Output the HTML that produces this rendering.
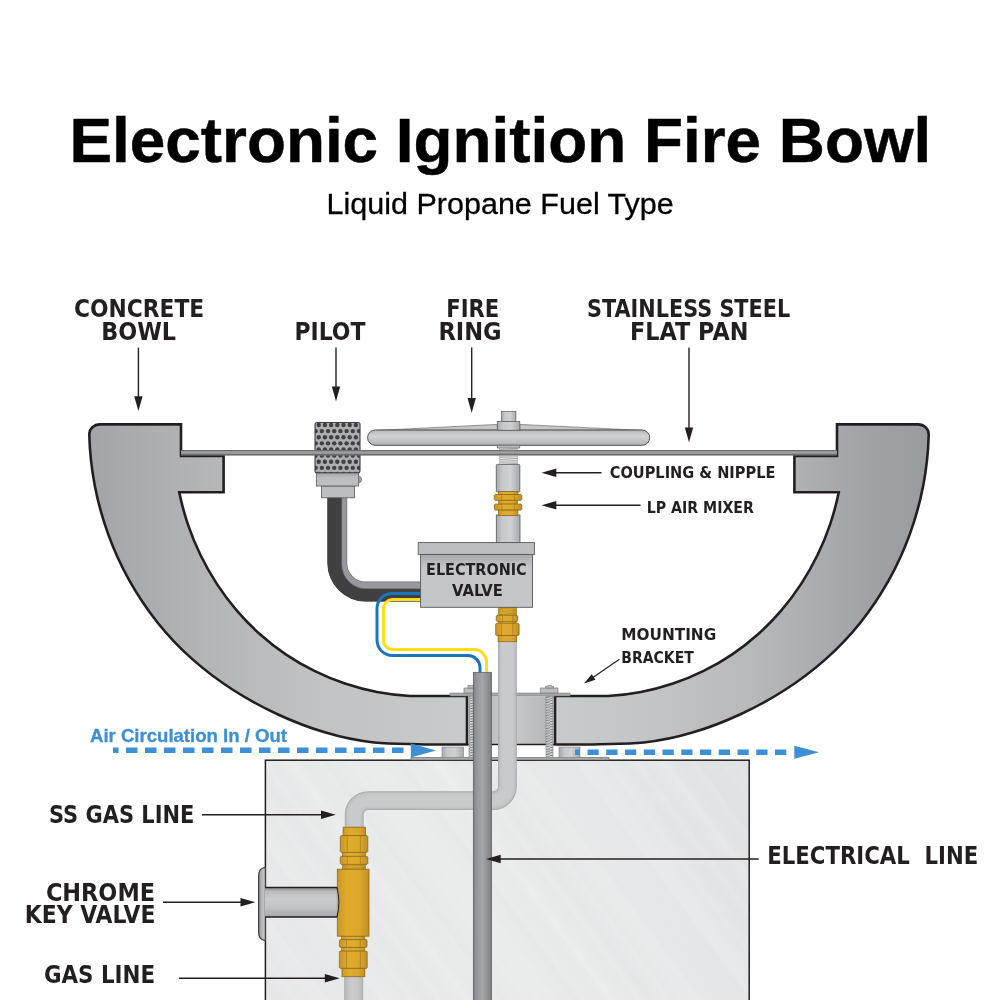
<!DOCTYPE html>
<html lang="en">
<head>
<meta charset="utf-8">
<title>Electronic Ignition Fire Bowl</title>
<style>
html,body{margin:0;padding:0;background:#fff;}
body{width:1000px;height:1000px;overflow:hidden;font-family:"Liberation Sans",sans-serif;}
svg{display:block;will-change:transform;}
svg text{will-change:transform;}
</style>
</head>
<body>
<svg width="1000" height="1000" viewBox="0 0 1000 1000" role="img" aria-label="Electronic Ignition Fire Bowl diagram">

<defs>
<linearGradient id="gBowlL" gradientUnits="userSpaceOnUse" x1="89" y1="0" x2="467" y2="0">
<stop offset="0" stop-color="#a2a4a7"/><stop offset="0.3" stop-color="#b2b4b6"/><stop offset="0.6" stop-color="#c1c2c4"/><stop offset="1" stop-color="#c9cacc"/></linearGradient>
<linearGradient id="gBowlR" gradientUnits="userSpaceOnUse" x1="929" y1="0" x2="551" y2="0">
<stop offset="0" stop-color="#999b9e"/><stop offset="0.16" stop-color="#a0a2a5"/><stop offset="0.47" stop-color="#b8b9bb"/><stop offset="0.75" stop-color="#c4c5c7"/><stop offset="1" stop-color="#c9cacc"/></linearGradient>
<linearGradient id="gBox" gradientUnits="userSpaceOnUse" x1="265" y1="1000" x2="749" y2="760">
<stop offset="0" stop-color="#e6e7e8"/><stop offset="0.45" stop-color="#e9eaea"/><stop offset="0.8" stop-color="#e5e6e7"/><stop offset="1" stop-color="#dfe0e1"/></linearGradient>
<linearGradient id="gStreak" gradientUnits="userSpaceOnUse" x1="0" y1="0" x2="18.5" y2="-13.7" spreadMethod="repeat">
<stop offset="0" stop-color="#fff" stop-opacity="0"/><stop offset="0.3" stop-color="#fff" stop-opacity="0"/><stop offset="0.5" stop-color="#fff" stop-opacity="0.10"/><stop offset="0.7" stop-color="#fff" stop-opacity="0"/><stop offset="1" stop-color="#fff" stop-opacity="0"/></linearGradient>
<linearGradient id="gStreak2" gradientUnits="userSpaceOnUse" x1="7" y1="0" x2="55.2" y2="-35.7" spreadMethod="repeat">
<stop offset="0" stop-color="#fff" stop-opacity="0"/><stop offset="0.2" stop-color="#fff" stop-opacity="0.11"/><stop offset="0.45" stop-color="#fff" stop-opacity="0"/><stop offset="0.7" stop-color="#d8d9da" stop-opacity="0.12"/><stop offset="1" stop-color="#fff" stop-opacity="0"/></linearGradient>
<linearGradient id="gPipeV" x1="0" y1="0" x2="1" y2="0">
<stop offset="0" stop-color="#a7a9ac"/><stop offset="0.25" stop-color="#c7c8ca"/><stop offset="0.6" stop-color="#cfd0d2"/><stop offset="1" stop-color="#a7a9ac"/></linearGradient>
<linearGradient id="gPipeV2" x1="0" y1="0" x2="1" y2="0">
<stop offset="0" stop-color="#b3b5b7"/><stop offset="0.3" stop-color="#c8c9cb"/><stop offset="0.7" stop-color="#c8c9cb"/><stop offset="1" stop-color="#b3b5b7"/></linearGradient>
<linearGradient id="gPipeH" x1="0" y1="0" x2="0" y2="1">
<stop offset="0" stop-color="#b5b7b9"/><stop offset="0.4" stop-color="#d1d3d4"/><stop offset="1" stop-color="#b1b3b6"/></linearGradient>
<linearGradient id="gCond" x1="0" y1="0" x2="1" y2="0">
<stop offset="0" stop-color="#808285"/><stop offset="0.2" stop-color="#96989b"/><stop offset="0.5" stop-color="#a3a5a8"/><stop offset="0.8" stop-color="#8e9093"/><stop offset="1" stop-color="#7b7d80"/></linearGradient>
<linearGradient id="gStem" x1="0" y1="0" x2="0" y2="1">
<stop offset="0" stop-color="#8a8c8e"/><stop offset="0.14" stop-color="#b9bbbd"/><stop offset="0.38" stop-color="#cbccce"/><stop offset="0.7" stop-color="#c0c2c4"/><stop offset="1" stop-color="#a3a5a8"/></linearGradient>
<linearGradient id="gFlange" x1="0" y1="0" x2="1" y2="0">
<stop offset="0" stop-color="#8a8c8e"/><stop offset="0.5" stop-color="#b9bbbd"/><stop offset="1" stop-color="#c8c9cb"/></linearGradient>
<linearGradient id="gBrass" x1="0" y1="0" x2="1" y2="0">
<stop offset="0" stop-color="#c9952a"/><stop offset="0.3" stop-color="#e0ab2c"/><stop offset="0.7" stop-color="#dca82b"/><stop offset="1" stop-color="#c08d27"/></linearGradient>
<linearGradient id="gValve" x1="0" y1="0" x2="0" y2="1">
<stop offset="0" stop-color="#a7a9ac"/><stop offset="0.25" stop-color="#c4c6c8"/><stop offset="1" stop-color="#c4c6c8"/></linearGradient>
<linearGradient id="gBase" x1="0" y1="0" x2="0" y2="1">
<stop offset="0" stop-color="#a0a2a5"/><stop offset="0.4" stop-color="#bcbec0"/><stop offset="1" stop-color="#bcbec0"/></linearGradient>
<linearGradient id="gBlock" x1="0" y1="0" x2="1" y2="0">
<stop offset="0" stop-color="#b1b3b6"/><stop offset="0.5" stop-color="#c9cacc"/><stop offset="1" stop-color="#b1b3b6"/></linearGradient>
<pattern id="pThread" patternUnits="userSpaceOnUse" x="0" y="696" width="10" height="2.6">
<rect width="10" height="2.6" fill="#d1d3d4"/>
<path d="M-1,2.6 L11,0.4" stroke="#6d6e71" stroke-width="0.9" fill="none"/>
</pattern>
<pattern id="pThread2" patternUnits="userSpaceOnUse" x="0" y="455.6" width="20" height="1.7">
<rect width="20" height="1.7" fill="#ffffff"/>
<path d="M-1,0.5 L21,1.3" stroke="#6d6e71" stroke-width="0.7" fill="none"/>
</pattern>
</defs>

<g id="box">
<rect x="265.4" y="760.2" width="483.8" height="245" fill="url(#gBox)"/>
<rect x="265.4" y="760.2" width="483.8" height="245" fill="url(#gStreak)"/>
<rect x="265.4" y="760.2" width="483.8" height="245" fill="url(#gStreak2)"/>
<rect x="265.4" y="760.2" width="483.8" height="245" fill="none" stroke="#231f20" stroke-width="1.5"/>
</g>
<g id="keyvalve">
<path d="M265.4,867.6 H264.5 Q258.6,868.5 258.6,876 V932 Q258.6,939.5 264.5,940.4 H265.4 Z" fill="url(#gFlange)" stroke="#414042" stroke-width="1.2"/>
<rect x="265" y="887.5" width="73" height="29.5" fill="url(#gStem)"/>
<path d="M265,887.5 H338 M265,917 H338" stroke="#231f20" stroke-width="1.3" fill="none"/>
</g>
<g id="plate">
<rect x="411" y="757.3" width="198" height="2.7" fill="#a7a9ac" stroke="#58595b" stroke-width="0.5"/>
<rect x="442" y="747" width="21.600000000000023" height="10.4" fill="url(#gPipeV)" stroke="#808285" stroke-width="0.6"/>
<rect x="559" y="747" width="21" height="10.4" fill="url(#gPipeV)" stroke="#808285" stroke-width="0.6"/>
</g>
<g id="bowl" stroke="#231f20" stroke-width="2.6" stroke-linejoin="miter">
<path d="M100.00,424.4 H181.00 V456 H223.60 V492.2 H179.25 C181.45,503.11 184.34,513.82 187.89,524.31 C191.45,534.8 195.66,545.07 200.50,555.02 C205.33,564.98 210.79,574.62 216.82,583.88 C222.86,593.13 229.47,601.99 236.63,610.38 C243.79,618.76 251.49,626.67 259.69,634.02 C267.89,641.37 276.60,648.16 285.74,654.32 C294.88,660.49 304.44,666.04 314.35,670.93 C324.25,675.82 334.48,680.06 344.96,683.59 C355.44,687.12 366.16,689.94 377.03,692.03 C387.90,694.11 398.92,695.45 410.00,696.0 H467.00 V744.5 H425.00 C408.39,743.83 391.01,744.09 374.12,742.42 C357.23,740.76 340.81,737.21 324.74,732.34 C308.67,727.47 292.90,721.34 277.50,714.22 C262.10,707.11 247.13,698.96 232.83,689.77 C218.54,680.59 204.94,670.38 192.30,659.14 C179.65,647.91 168.00,635.63 157.47,622.45 C146.94,609.26 137.53,595.19 129.30,580.44 C121.07,565.69 114.03,550.26 108.25,534.36 C102.47,518.46 97.95,502.09 94.76,485.46 C91.58,468.83 89.74,451.94 89.30,435.0 C89.00,428.9 94.00,424.4 100.00,424.4 Z" fill="url(#gBowlL)"/>
<path d="M918.00,424.4 H837.00 V456 H794.40 V492.2 H838.75 C836.55,503.11 833.66,513.82 830.11,524.31 C826.55,534.8 822.34,545.07 817.50,555.02 C812.67,564.98 807.21,574.62 801.18,583.88 C795.14,593.13 788.53,601.99 781.37,610.38 C774.21,618.76 766.51,626.67 758.31,634.02 C750.11,641.37 741.40,648.16 732.26,654.32 C723.12,660.49 713.56,666.04 703.65,670.93 C693.75,675.82 683.52,680.06 673.04,683.59 C662.56,687.12 651.84,689.94 640.97,692.03 C630.10,694.11 619.08,695.45 608.00,696.0 H555.00 V744.5 H593.00 C609.61,743.83 626.99,744.09 643.88,742.42 C660.77,740.76 677.19,737.21 693.26,732.34 C709.33,727.47 725.10,721.34 740.50,714.22 C755.90,707.11 770.87,698.96 785.17,689.77 C799.46,680.59 813.06,670.38 825.70,659.14 C838.35,647.91 850.00,635.63 860.53,622.45 C871.06,609.26 880.47,595.19 888.70,580.44 C896.93,565.69 903.97,550.26 909.75,534.36 C915.53,518.46 920.05,502.09 923.24,485.46 C926.42,468.83 928.26,451.94 928.70,435.0 C929.00,428.9 924.00,424.4 918.00,424.4 Z" fill="url(#gBowlR)"/>
</g>
<g id="bracket">
<rect x="468" y="696.5" width="86" height="48" fill="url(#gBlock)"/>
<path d="M468,744.5 H554" stroke="#231f20" stroke-width="1.6"/>
<rect x="469" y="696" width="5" height="61.5" fill="url(#pThread)" stroke="#808285" stroke-width="0.6"/>
<rect x="546" y="696" width="7" height="61.5" fill="url(#pThread)" stroke="#808285" stroke-width="0.6"/>
<rect x="450" y="693" width="120" height="3" fill="#a7a9ac" stroke="#6d6e71" stroke-width="0.5"/>
<rect x="464" y="688" width="12" height="5" fill="#bcbec0" stroke="#6d6e71" stroke-width="0.6"/>
<rect x="468" y="685.5" width="6" height="2.5" fill="#bcbec0" stroke="#6d6e71" stroke-width="0.6"/>
<rect x="540.5" y="688" width="17.5" height="5" fill="#bcbec0" stroke="#6d6e71" stroke-width="0.6"/>
<path d="M545.5,688 V686.5 Q549.5,684 553.5,686.5 V688 Z" fill="#bcbec0" stroke="#6d6e71" stroke-width="0.6"/>
</g>
<g id="pilot">
<path d="M327.4,497 V563.10 A38.5,38.5 0 0 0 365.90,601.6 H421 V581.6 H365.70 A18.5,18.5 0 0 1 347.2,563.10 V497 Z" fill="#6d6e71"/>
<path d="M327.4,497 V563.10 A38.5,38.5 0 0 0 365.90,601.6 H421 V589.0 H365.90 A24.5,24.5 0 0 1 341.4,564.50 V497 Z" fill="#404041"/>
<path d="M342.2,497 V564.50 A23.7,23.7 0 0 0 365.90,588.2 H421 V582.3 H365.70 A19.2,19.2 0 0 1 346.5,563.10 V497 Z" fill="#97999c"/>
<path d="M421,593.5 H392 A15,15 0 0 0 377,608.5 V640 A15.6,15.6 0 0 0 392.6,655.6 H468 A12,12 0 0 1 480,667.6 V673" fill="none" stroke="#1b75bc" stroke-width="3"/>
<path d="M421,599.6 H392.5 A9,9 0 0 0 383.5,608.6 V640 A9.6,9.6 0 0 0 393.1,649.6 H474 A12.5,12.5 0 0 1 486.5,662.1 V673" fill="none" stroke="#ffde17" stroke-width="3"/>
<rect x="321.5" y="486" width="33" height="11.8" fill="#bcbec0" stroke="#58595b" stroke-width="0.8"/>
<circle cx="358.4" cy="479.5" r="3.2" fill="#a7a9ac" stroke="#58595b" stroke-width="0.7"/>
<rect x="316.3" y="472.7" width="42.4" height="13.3" fill="url(#gBase)" stroke="#58595b" stroke-width="0.8"/>
<clipPath id="cPilot"><rect x="315" y="422.5" width="45" height="50.2" rx="2" ry="2"/></clipPath>
<rect x="315" y="422.5" width="45" height="50.2" rx="2" ry="2" fill="#adafb2"/>
<g clip-path="url(#cPilot)" fill="#414042">
<circle cx="318.75" cy="425.00" r="2.2"/>
<circle cx="324.94" cy="425.00" r="2.2"/>
<circle cx="331.13" cy="425.00" r="2.2"/>
<circle cx="337.32" cy="425.00" r="2.2"/>
<circle cx="343.51" cy="425.00" r="2.2"/>
<circle cx="349.70" cy="425.00" r="2.2"/>
<circle cx="355.89" cy="425.00" r="2.2"/>
<circle cx="315.65" cy="431.12" r="2.2"/>
<circle cx="321.84" cy="431.12" r="2.2"/>
<circle cx="328.03" cy="431.12" r="2.2"/>
<circle cx="334.22" cy="431.12" r="2.2"/>
<circle cx="340.41" cy="431.12" r="2.2"/>
<circle cx="346.60" cy="431.12" r="2.2"/>
<circle cx="352.79" cy="431.12" r="2.2"/>
<circle cx="358.98" cy="431.12" r="2.2"/>
<circle cx="318.75" cy="437.24" r="2.2"/>
<circle cx="324.94" cy="437.24" r="2.2"/>
<circle cx="331.13" cy="437.24" r="2.2"/>
<circle cx="337.32" cy="437.24" r="2.2"/>
<circle cx="343.51" cy="437.24" r="2.2"/>
<circle cx="349.70" cy="437.24" r="2.2"/>
<circle cx="355.89" cy="437.24" r="2.2"/>
<circle cx="315.65" cy="443.36" r="2.2"/>
<circle cx="321.84" cy="443.36" r="2.2"/>
<circle cx="328.03" cy="443.36" r="2.2"/>
<circle cx="334.22" cy="443.36" r="2.2"/>
<circle cx="340.41" cy="443.36" r="2.2"/>
<circle cx="346.60" cy="443.36" r="2.2"/>
<circle cx="352.79" cy="443.36" r="2.2"/>
<circle cx="358.98" cy="443.36" r="2.2"/>
<circle cx="318.75" cy="449.48" r="2.2"/>
<circle cx="324.94" cy="449.48" r="2.2"/>
<circle cx="331.13" cy="449.48" r="2.2"/>
<circle cx="337.32" cy="449.48" r="2.2"/>
<circle cx="343.51" cy="449.48" r="2.2"/>
<circle cx="349.70" cy="449.48" r="2.2"/>
<circle cx="355.89" cy="449.48" r="2.2"/>
<circle cx="315.65" cy="455.60" r="2.2"/>
<circle cx="321.84" cy="455.60" r="2.2"/>
<circle cx="328.03" cy="455.60" r="2.2"/>
<circle cx="334.22" cy="455.60" r="2.2"/>
<circle cx="340.41" cy="455.60" r="2.2"/>
<circle cx="346.60" cy="455.60" r="2.2"/>
<circle cx="352.79" cy="455.60" r="2.2"/>
<circle cx="358.98" cy="455.60" r="2.2"/>
<circle cx="318.75" cy="461.72" r="2.2"/>
<circle cx="324.94" cy="461.72" r="2.2"/>
<circle cx="331.13" cy="461.72" r="2.2"/>
<circle cx="337.32" cy="461.72" r="2.2"/>
<circle cx="343.51" cy="461.72" r="2.2"/>
<circle cx="349.70" cy="461.72" r="2.2"/>
<circle cx="355.89" cy="461.72" r="2.2"/>
<circle cx="315.65" cy="467.84" r="2.2"/>
<circle cx="321.84" cy="467.84" r="2.2"/>
<circle cx="328.03" cy="467.84" r="2.2"/>
<circle cx="334.22" cy="467.84" r="2.2"/>
<circle cx="340.41" cy="467.84" r="2.2"/>
<circle cx="346.60" cy="467.84" r="2.2"/>
<circle cx="352.79" cy="467.84" r="2.2"/>
<circle cx="358.98" cy="467.84" r="2.2"/>
<circle cx="318.75" cy="473.96" r="2.2"/>
<circle cx="324.94" cy="473.96" r="2.2"/>
<circle cx="331.13" cy="473.96" r="2.2"/>
<circle cx="337.32" cy="473.96" r="2.2"/>
<circle cx="343.51" cy="473.96" r="2.2"/>
<circle cx="349.70" cy="473.96" r="2.2"/>
<circle cx="355.89" cy="473.96" r="2.2"/>
</g>
<rect x="315" y="422.5" width="45" height="50.2" rx="2" ry="2" fill="none" stroke="#414042" stroke-width="1.1"/>
</g>
<g id="pan">
<rect x="181" y="450" width="656" height="5.6" fill="#6d6e71"/>
<rect x="181" y="451.2" width="656" height="2.6" fill="#9d9fa2"/>
</g>
<g id="stack">
<rect x="499.7" y="447" width="17.8" height="3" fill="url(#pThread2)" stroke="#939598" stroke-width="0.5"/>
<rect x="499.7" y="455.6" width="17.8" height="9" fill="url(#pThread2)" stroke="#939598" stroke-width="0.5"/>
<rect x="496.3" y="464.4" width="23.5" height="27.6" rx="1" fill="url(#gPipeV)" stroke="#58595b" stroke-width="0.8"/>
<rect x="496.3" y="515" width="23.7" height="28" fill="url(#gPipeV)" stroke="#58595b" stroke-width="0.8"/>
<rect x="498.4" y="491.6" width="19.50" height="3.00" fill="url(#gBrass)" stroke="#8c6a1a" stroke-width="0.8" />
<rect x="498.6" y="500" width="19.00" height="4.20" fill="url(#gBrass)" stroke="#8c6a1a" stroke-width="0.6" />
<path d="M495.1,494.5 H521.0 L521.8,495.3 V499.5 L521.0,500.3 H495.1 L494.3,499.5 V495.3 Z" fill="url(#gBrass)" stroke="#8c6a1a" stroke-width="0.8"/>
<path d="M501.73,494.5 V500.3 M514.38,494.5 V500.3" stroke="#8c6a1a" stroke-width="0.6" fill="none" opacity="0.8"/>
<path d="M495.2,504 H521.0 L521.8,504.8 V509.3 L521.0,510.1 H495.2 L494.4,509.3 V504.8 Z" fill="url(#gBrass)" stroke="#8c6a1a" stroke-width="0.8"/>
<path d="M501.80,504 V510.1 M514.40,504 V510.1" stroke="#8c6a1a" stroke-width="0.6" fill="none" opacity="0.8"/>
<rect x="498.4" y="510.1" width="19.50" height="5.30" fill="url(#gBrass)" stroke="#8c6a1a" stroke-width="0.8" />
<rect x="501.3" y="411.3" width="14.6" height="10.5" fill="url(#gPipeV)" stroke="#58595b" stroke-width="0.7"/>
<path d="M377,430.4 L497.3,424.4 V430.4 Z M643,430.4 L519.8,424.4 V430.4 Z" fill="#c4c6c8" stroke="#58595b" stroke-width="0.6"/>
<rect x="367.6" y="430" width="282.1" height="15.3" rx="7.65" ry="7.65" fill="url(#gPipeH)" stroke="#414042" stroke-width="0.9"/>
<rect x="497.3" y="421.4" width="22.5" height="8.8" fill="url(#gPipeV)" stroke="#58595b" stroke-width="0.7"/>
<rect x="497.3" y="445.2" width="22.5" height="2.8" fill="#bcbec0" stroke="#58595b" stroke-width="0.6"/>
</g>
<g id="gaspipe">
<path d="M507.4,641 V786.6 A14,14 0 0 1 493.4,800.6 H368.2 A14,14 0 0 0 354.2,814.6 V828" fill="none" stroke="#a7a9ac" stroke-width="18.8"/>
<path d="M507.4,641 V786.6 A14,14 0 0 1 493.4,800.6 H368.2 A14,14 0 0 0 354.2,814.6 V828" fill="none" stroke="#b9bbbd" stroke-width="17.4"/>
<path d="M507.4,641 V786.6 A14,14 0 0 1 493.4,800.6 H368.2 A14,14 0 0 0 354.2,814.6 V828" fill="none" stroke="#c3c5c7" stroke-width="15"/>
<path d="M507.4,641 V786.6 A14,14 0 0 1 493.4,800.6 H368.2 A14,14 0 0 0 354.2,814.6 V828" fill="none" stroke="#c9cacc" stroke-width="11"/>
<rect x="344.5" y="975" width="18.4" height="30" fill="url(#gPipeV2)" stroke="#a7a9ac" stroke-width="0.6"/>
</g>
<rect x="473.3" y="672.3" width="18.2" height="335" fill="url(#gCond)" stroke="#58595b" stroke-width="0.7"/>
<g id="valve">
<rect x="498.4" y="607" width="18.00" height="8.20" fill="url(#gBrass)" stroke="#8c6a1a" stroke-width="0.6" />
<path d="M498.9,609.19 L515.9,607.55 M498.9,611.92 L515.9,610.28 M498.9,614.65 L515.9,613.01 " stroke="#8c6a1a" stroke-width="0.5" fill="none" opacity="0.7"/>
<path d="M497.1,615.3 H516.9000000000001 L517.7,616.0999999999999 V620.7 L516.9000000000001,621.5 H497.1 L496.3,620.7 V616.0999999999999 Z" fill="url(#gBrass)" stroke="#8c6a1a" stroke-width="0.8"/>
<path d="M502.51,615.3 V621.5 M512.78,615.3 V621.5" stroke="#8c6a1a" stroke-width="0.6" fill="none" opacity="0.8"/>
<rect x="498.7" y="621.4" width="17.40" height="2.00" fill="url(#gBrass)" stroke="#8c6a1a" stroke-width="0.6" />
<path d="M496.5,623.2 H518.3000000000001 L519.1,624.0 V634.8000000000001 L518.3000000000001,635.6 H496.5 L495.7,634.8000000000001 V624.0 Z" fill="url(#gBrass)" stroke="#8c6a1a" stroke-width="0.8"/>
<path d="M501.32,623.2 V635.6 M512.78,623.2 V635.6" stroke="#8c6a1a" stroke-width="0.6" fill="none" opacity="0.8"/>
<rect x="498.1" y="635.6" width="18.60" height="6.10" fill="url(#gBrass)" stroke="#8c6a1a" stroke-width="0.8" />
<rect x="420.6" y="554.4" width="111.9" height="52.9" fill="url(#gValve)" stroke="#58595b" stroke-width="0.9"/>
<rect x="418.2" y="542.6" width="116.2" height="11.8" fill="#bcbec0" stroke="#58595b" stroke-width="0.9"/>
</g>
<g id="kvbrass">
<rect x="343.1" y="827.2" width="22.40" height="8.40" fill="url(#gBrass)" stroke="#8c6a1a" stroke-width="0.8" />
<rect x="342.4" y="852.2" width="23.10" height="4.30" fill="url(#gBrass)" stroke="#8c6a1a" stroke-width="0.6" />
<path d="M341.1,835.6 H367.0 L367.8,836.4 V851.6 L367.0,852.4 H341.1 L340.3,851.6 V836.4 Z" fill="url(#gBrass)" stroke="#8c6a1a" stroke-width="0.8"/>
<path d="M347.31,835.6 V852.4 M360.38,835.6 V852.4" stroke="#8c6a1a" stroke-width="0.6" fill="none" opacity="0.8"/>
<path d="M341.1,856.3 H367.0 L367.8,857.0999999999999 V863.6 L367.0,864.4 H341.1 L340.3,863.6 V857.0999999999999 Z" fill="url(#gBrass)" stroke="#8c6a1a" stroke-width="0.8"/>
<path d="M347.31,856.3 V864.4 M360.38,856.3 V864.4" stroke="#8c6a1a" stroke-width="0.6" fill="none" opacity="0.8"/>
<rect x="342.6" y="864.4" width="22.70" height="4.80" fill="url(#gBrass)" stroke="#8c6a1a" stroke-width="0.6" />
<path d="M343.1,866.32 L364.8,864.88 M343.1,868.72 L364.8,867.28 " stroke="#8c6a1a" stroke-width="0.5" fill="none" opacity="0.7"/>
<rect x="341.6" y="936" width="23.20" height="3.60" fill="url(#gBrass)" stroke="#8c6a1a" stroke-width="0.6" />
<rect x="341.6" y="947.2" width="23.20" height="4.00" fill="url(#gBrass)" stroke="#8c6a1a" stroke-width="0.6" />
<rect x="337.3" y="869.2" width="31.70" height="67.00" fill="url(#gBrass)" stroke="#8c6a1a" stroke-width="0.8" />
<path d="M340.2,939.5 H366.2 L367,940.3 V946.6 L366.2,947.4 H340.2 L339.4,946.6 V940.3 Z" fill="url(#gBrass)" stroke="#8c6a1a" stroke-width="0.8"/>
<path d="M346.44,939.5 V947.4 M360.24,939.5 V947.4" stroke="#8c6a1a" stroke-width="0.6" fill="none" opacity="0.8"/>
<path d="M340.2,951.1 H366.4 L367.2,951.9 V967.6 L366.4,968.4 H340.2 L339.4,967.6 V951.9 Z" fill="url(#gBrass)" stroke="#8c6a1a" stroke-width="0.8"/>
<path d="M346.49,951.1 V968.4 M360.39,951.1 V968.4" stroke="#8c6a1a" stroke-width="0.6" fill="none" opacity="0.8"/>
<rect x="342" y="968.3" width="22.80" height="8.40" fill="url(#gBrass)" stroke="#8c6a1a" stroke-width="0.8" />
<path d="M337,888 Q340.8,902.2 337,916.5 Z" fill="#a7a9ac"/>
<path d="M337,887.5 Q340.8,902.2 337,917" stroke="#231f20" stroke-width="1" fill="none"/>
</g>
<g id="air">
<path d="M113,750.3 H403.6" stroke="#3d8fd6" stroke-width="5.4" stroke-dasharray="11.5 7.5" stroke-dashoffset="6" fill="none"/>
<path d="M410.8,743.4 L436,750.5 L410.8,757.6 Z" fill="#3d8fd6"/>
<path d="M575,752.3 H786.4" stroke="#3d8fd6" stroke-width="5.4" stroke-dasharray="11.25 7.5" stroke-dashoffset="6.25" fill="none"/>
<path d="M794.3,745.8 L819.2,752.3 L794.3,758.8 Z" fill="#3d8fd6"/>
</g>
<g id="arrows">
<path d="M138.40,347.60 L138.40,398.30" stroke="#231f20" stroke-width="1.4" fill="none"/>
<path d="M138.40,411.10 L134.20,396.30 L142.60,396.30 Z" fill="#231f20"/>
<path d="M336.00,347.60 L336.00,388.50" stroke="#231f20" stroke-width="1.4" fill="none"/>
<path d="M336.00,401.30 L331.80,386.50 L340.20,386.50 Z" fill="#231f20"/>
<path d="M471.70,347.60 L471.70,399.90" stroke="#231f20" stroke-width="1.4" fill="none"/>
<path d="M471.70,412.70 L467.50,397.90 L475.90,397.90 Z" fill="#231f20"/>
<path d="M689.00,347.60 L689.00,429.50" stroke="#231f20" stroke-width="1.4" fill="none"/>
<path d="M689.00,442.30 L684.80,427.50 L693.20,427.50 Z" fill="#231f20"/>
<path d="M601.50,472.80 L554.30,472.80" stroke="#231f20" stroke-width="1.4" fill="none"/>
<path d="M541.50,472.80 L556.30,468.60 L556.30,477.00 Z" fill="#231f20"/>
<path d="M640.50,505.30 L554.30,505.30" stroke="#231f20" stroke-width="1.4" fill="none"/>
<path d="M541.50,505.30 L556.30,501.10 L556.30,509.50 Z" fill="#231f20"/>
<path d="M619.40,659.30 L591.88,678.19" stroke="#231f20" stroke-width="1.1" fill="none"/>
<path d="M584.05,683.57 L591.67,674.34 L595.40,679.78 Z" fill="#231f20"/>
<path d="M758.70,859.00 L498.70,859.00" stroke="#231f20" stroke-width="1.4" fill="none"/>
<path d="M485.90,859.00 L500.70,854.80 L500.70,863.20 Z" fill="#231f20"/>
<path d="M202.00,814.80 L323.00,814.80" stroke="#231f20" stroke-width="1.4" fill="none"/>
<path d="M335.80,814.80 L321.00,819.00 L321.00,810.60 Z" fill="#231f20"/>
<path d="M163.00,902.20 L242.50,902.20" stroke="#231f20" stroke-width="1.4" fill="none"/>
<path d="M255.30,902.20 L240.50,906.40 L240.50,898.00 Z" fill="#231f20"/>
<path d="M179.00,978.20 L326.80,978.20" stroke="#231f20" stroke-width="1.4" fill="none"/>
<path d="M339.60,978.20 L324.80,982.40 L324.80,974.00 Z" fill="#231f20"/>
</g>
<g id="labels">
<text x="69.48" y="162.0" font-family="'Liberation Sans', sans-serif" font-size="63.5" font-weight="bold" fill="#000" stroke="#000" stroke-width="0.5" textLength="861.86" lengthAdjust="spacingAndGlyphs" xml:space="preserve" style="white-space:pre">Electronic Ignition Fire Bowl</text>
<text x="326.49" y="214.0" font-family="'Liberation Sans', sans-serif" font-size="30.4" font-weight="normal" fill="#000" stroke="#000" stroke-width="0.3" textLength="347.31" lengthAdjust="spacingAndGlyphs" xml:space="preserve" style="white-space:pre">Liquid Propane Fuel Type</text>
<text x="74.09" y="317.0" font-family="'DejaVu Sans', 'Liberation Sans', sans-serif" font-size="24" font-weight="bold" fill="#231f20" textLength="130.14" lengthAdjust="spacingAndGlyphs" xml:space="preserve" style="white-space:pre">CONCRETE</text>
<text x="101.14" y="339.7" font-family="'DejaVu Sans', 'Liberation Sans', sans-serif" font-size="24" font-weight="bold" fill="#231f20" textLength="74.90" lengthAdjust="spacingAndGlyphs" xml:space="preserve" style="white-space:pre">BOWL</text>
<text x="294.47" y="339.7" font-family="'DejaVu Sans', 'Liberation Sans', sans-serif" font-size="24" font-weight="bold" fill="#231f20" textLength="70.98" lengthAdjust="spacingAndGlyphs" xml:space="preserve" style="white-space:pre">PILOT</text>
<text x="446.24" y="317.0" font-family="'DejaVu Sans', 'Liberation Sans', sans-serif" font-size="24" font-weight="bold" fill="#231f20" textLength="52.89" lengthAdjust="spacingAndGlyphs" xml:space="preserve" style="white-space:pre">FIRE</text>
<text x="438.42" y="339.7" font-family="'DejaVu Sans', 'Liberation Sans', sans-serif" font-size="24" font-weight="bold" fill="#231f20" textLength="63.26" lengthAdjust="spacingAndGlyphs" xml:space="preserve" style="white-space:pre">RING</text>
<text x="586.97" y="317.0" font-family="'DejaVu Sans', 'Liberation Sans', sans-serif" font-size="24" font-weight="bold" fill="#231f20" textLength="203.20" lengthAdjust="spacingAndGlyphs" xml:space="preserve" style="white-space:pre">STAINLESS STEEL</text>
<text x="630.04" y="339.7" font-family="'DejaVu Sans', 'Liberation Sans', sans-serif" font-size="24" font-weight="bold" fill="#231f20" textLength="118.38" lengthAdjust="spacingAndGlyphs" xml:space="preserve" style="white-space:pre">FLAT PAN</text>
<text x="609.70" y="478.2" font-family="'DejaVu Sans', 'Liberation Sans', sans-serif" font-size="16.3" font-weight="bold" fill="#231f20" textLength="165.75" lengthAdjust="spacingAndGlyphs" xml:space="preserve" style="white-space:pre">COUPLING &amp; NIPPLE</text>
<text x="646.63" y="512.6" font-family="'DejaVu Sans', 'Liberation Sans', sans-serif" font-size="16.3" font-weight="bold" fill="#231f20" textLength="107.34" lengthAdjust="spacingAndGlyphs" xml:space="preserve" style="white-space:pre">LP AIR MIXER</text>
<text x="426.10" y="575.0" font-family="'DejaVu Sans', 'Liberation Sans', sans-serif" font-size="16" font-weight="bold" fill="#231f20" textLength="100.55" lengthAdjust="spacingAndGlyphs" xml:space="preserve" style="white-space:pre">ELECTRONIC</text>
<text x="452.00" y="595.6" font-family="'DejaVu Sans', 'Liberation Sans', sans-serif" font-size="16" font-weight="bold" fill="#231f20" textLength="50.91" lengthAdjust="spacingAndGlyphs" xml:space="preserve" style="white-space:pre">VALVE</text>
<text x="621.16" y="640.4" font-family="'DejaVu Sans', 'Liberation Sans', sans-serif" font-size="16.3" font-weight="bold" fill="#231f20" textLength="95.13" lengthAdjust="spacingAndGlyphs" xml:space="preserve" style="white-space:pre">MOUNTING</text>
<text x="621.24" y="663.3" font-family="'DejaVu Sans', 'Liberation Sans', sans-serif" font-size="16.3" font-weight="bold" fill="#231f20" textLength="72.56" lengthAdjust="spacingAndGlyphs" xml:space="preserve" style="white-space:pre">BRACKET</text>
<text x="89.98" y="742.4" font-family="'Liberation Sans', sans-serif" font-size="18.2" font-weight="bold" fill="#3d8fd6" stroke="#3d8fd6" stroke-width="0.3" textLength="197.02" lengthAdjust="spacingAndGlyphs" xml:space="preserve" style="white-space:pre">Air Circulation In / Out</text>
<text x="48.92" y="823.4" font-family="'DejaVu Sans', 'Liberation Sans', sans-serif" font-size="25" font-weight="bold" fill="#231f20" textLength="145.46" lengthAdjust="spacingAndGlyphs" xml:space="preserve" style="white-space:pre">SS GAS LINE</text>
<text x="45.90" y="900.8" font-family="'DejaVu Sans', 'Liberation Sans', sans-serif" font-size="25" font-weight="bold" fill="#231f20" textLength="109.15" lengthAdjust="spacingAndGlyphs" xml:space="preserve" style="white-space:pre">CHROME</text>
<text x="24.75" y="923.4" font-family="'DejaVu Sans', 'Liberation Sans', sans-serif" font-size="25" font-weight="bold" fill="#231f20" textLength="130.65" lengthAdjust="spacingAndGlyphs" xml:space="preserve" style="white-space:pre">KEY VALVE</text>
<text x="43.94" y="983.3" font-family="'DejaVu Sans', 'Liberation Sans', sans-serif" font-size="25" font-weight="bold" fill="#231f20" textLength="111.11" lengthAdjust="spacingAndGlyphs" xml:space="preserve" style="white-space:pre">GAS LINE</text>
<text x="767.30" y="863.8" font-family="'DejaVu Sans', 'Liberation Sans', sans-serif" font-size="25" font-weight="bold" fill="#231f20" textLength="211.01" lengthAdjust="spacingAndGlyphs" xml:space="preserve" style="white-space:pre">ELECTRICAL  LINE</text>
</g>
</svg>
</body>
</html>
